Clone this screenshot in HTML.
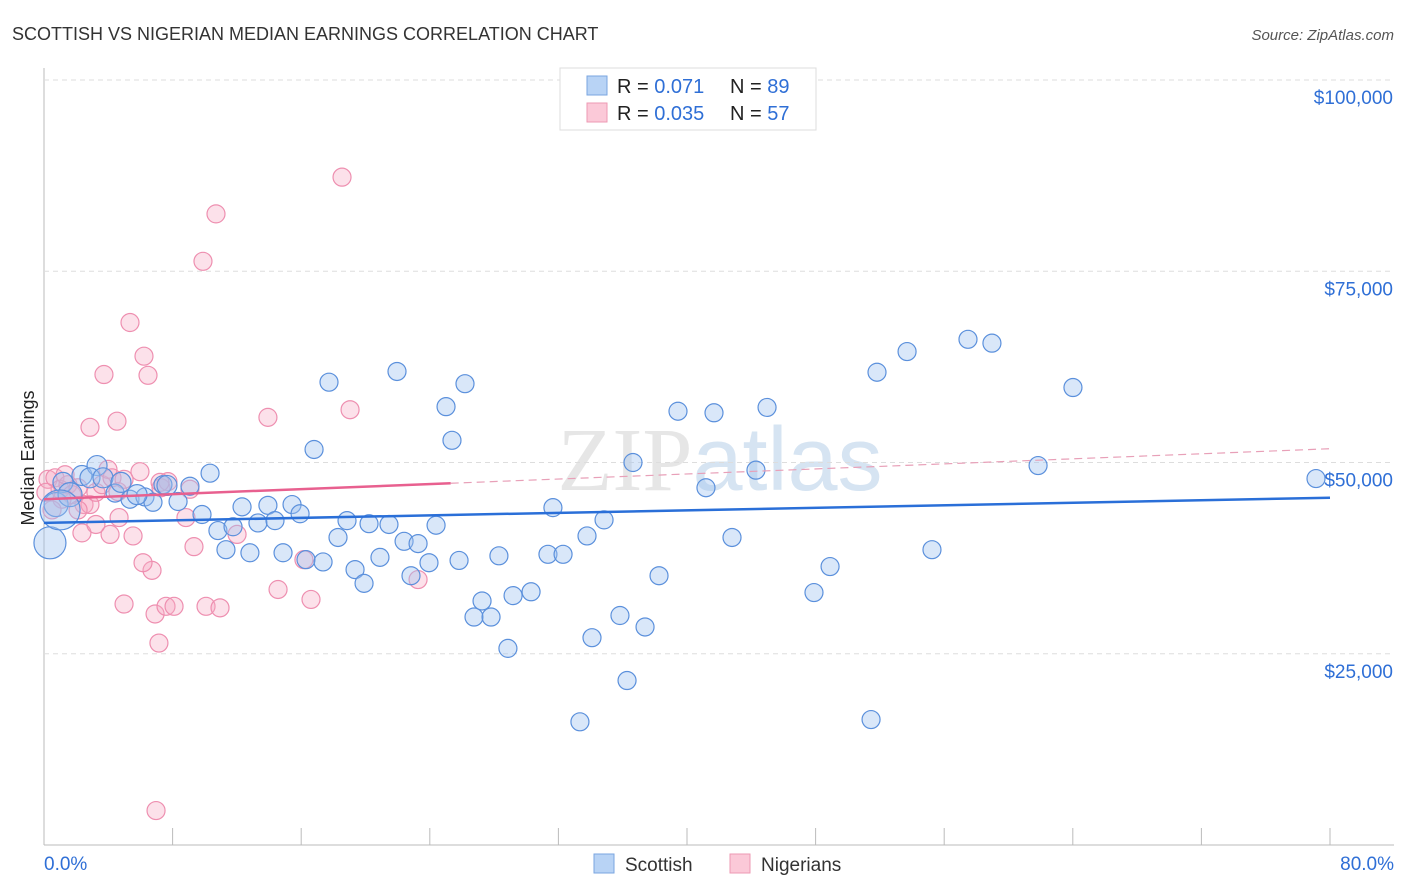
<!DOCTYPE html>
<html><head><meta charset="utf-8"><style>
body{margin:0;background:#fff;font-family:"Liberation Sans",sans-serif}
svg{display:block}
</style></head><body>
<svg id="chart" width="1406" height="892">
<text x="12" y="40" font-size="18" fill="#333">SCOTTISH VS NIGERIAN MEDIAN EARNINGS CORRELATION CHART</text>
<text x="1394" y="40" font-size="15" fill="#555" font-style="italic" text-anchor="end">Source: ZipAtlas.com</text>
<text x="34" y="458" font-size="18" fill="#222" text-anchor="middle" transform="rotate(-90 34 458)">Median Earnings</text>
<text x="720" y="490" font-size="90" fill="#e6e6e6" text-anchor="middle" font-family="Liberation Serif,serif">ZIP<tspan fill="#d6e4f2" font-family="Liberation Sans,sans-serif">atlas</tspan></text>
<g id="grid"></g><g id="pts"></g><g id="lines"></g>
<g>
<rect x="560" y="68" width="256" height="62" fill="#fff" stroke="#ddd"/>
<rect x="587" y="76" width="20" height="19" fill="#b8d3f5" stroke="#7aa6e0"/>
<rect x="587" y="103" width="20" height="19" fill="#fbc9d8" stroke="#ee99b3"/>
<text x="617" y="93" font-size="20" fill="#222">R = <tspan fill="#2f6fd6">0.071</tspan></text>
<text x="730" y="93" font-size="20" fill="#222">N = <tspan fill="#2f6fd6">89</tspan></text>
<text x="617" y="120" font-size="20" fill="#222">R = <tspan fill="#2f6fd6">0.035</tspan></text>
<text x="730" y="120" font-size="20" fill="#222">N = <tspan fill="#2f6fd6">57</tspan></text>
</g>
<g>
<rect x="594" y="854" width="20" height="19" fill="#b8d3f5" stroke="#7aa6e0"/>
<text x="625" y="871" font-size="19" fill="#333">Scottish</text>
<rect x="730" y="854" width="20" height="19" fill="#fbc9d8" stroke="#ee99b3"/>
<text x="761" y="871" font-size="19" fill="#333">Nigerians</text>
</g>
<text x="44" y="870" font-size="19" fill="#2f6fd6">0.0%</text>
<text x="1394" y="870" font-size="19" fill="#2f6fd6" text-anchor="end">80.0%</text>
</svg>
<script>
const yTicks=[25000,50000,75000,100000];
const yTickLabels=["$25,000","$50,000","$75,000","$100,000"];
const xTicks=[0,8,16,24,32,40,48,56,64,72,80];
const blueX=[2.36,3.30,2.86,1.18,4.42,5.35,6.28,6.78,7.40,8.34,9.08,10.33,9.83,10.82,11.76,11.32,12.32,12.81,13.31,13.93,14.37,14.87,15.43,15.93,16.30,16.80,17.36,17.73,18.29,18.85,19.35,19.91,20.22,20.90,21.46,21.96,22.40,22.83,23.27,23.95,24.39,25.01,25.38,25.82,26.19,26.75,27.25,27.81,28.30,28.86,29.18,30.30,31.35,31.66,32.29,33.78,34.09,34.84,35.83,36.27,36.64,37.39,38.26,39.44,41.18,41.68,42.80,44.29,44.98,47.90,48.90,51.45,51.82,53.69,55.24,57.48,58.97,61.84,64.01,79.13,33.34,0.37,0.75,1.62,3.67,4.79,5.79,7.65,1.0];
const blueY=[48.3,49.6,48.0,47.4,46.0,45.2,45.5,44.8,47.1,44.9,46.9,48.6,43.2,41.1,41.6,38.6,44.2,38.2,42.1,44.4,42.4,38.2,44.5,43.3,37.3,51.7,37.0,60.5,40.2,42.4,36.0,34.2,42.0,37.6,41.9,61.9,39.7,35.2,39.4,36.9,41.8,57.3,52.9,37.2,60.3,29.8,31.9,29.8,37.8,25.7,32.6,33.1,38.0,44.1,38.0,40.4,27.1,42.5,30.0,21.5,50.0,28.5,35.2,56.7,46.7,56.5,40.2,49.0,57.2,33.0,36.4,16.4,61.8,64.5,38.6,66.1,65.6,49.6,59.8,47.9,16.1,39.5,44.5,45.8,48.0,47.4,45.8,47.0,43.8];
const blueR=[10,10,10,10,9,9,9,9,9,9,9,9,9,9,9,9,9,9,9,9,9,9,9,9,9,9,9,9,9,9,9,9,9,9,9,9,9,9,9,9,9,9,9,9,9,9,9,9,9,9,9,9,9,9,9,9,9,9,9,9,9,9,9,9,9,9,9,9,9,9,9,9,9,9,9,9,9,9,9,9,9,16,12,12,10,10,10,10,20];
const pinkX=[0.25,0.68,1.00,1.49,1.74,2.12,2.49,2.86,3.23,3.61,3.98,4.23,4.60,4.98,5.97,2.86,4.54,3.73,5.35,6.22,6.47,7.28,7.71,8.83,9.33,10.08,10.95,12.01,10.70,9.89,13.93,18.54,19.04,14.56,16.61,16.17,23.27,2.36,4.11,5.54,6.72,6.16,4.98,6.91,7.59,8.09,7.15,6.97,4.67,3.23,2.12,1.12,0.50,0.12,1.31,7.22,9.08];
const pinkY=[47.8,48.0,46.5,47.1,45.8,46.7,44.5,44.5,46.1,47.1,49.1,48.0,46.2,47.8,48.8,54.6,55.4,61.5,68.3,63.9,61.4,46.7,47.5,42.8,39.0,31.2,31.0,40.6,82.5,76.3,55.9,87.3,56.9,33.4,32.1,37.3,34.7,40.8,40.6,40.4,35.9,36.9,31.5,30.2,31.2,31.2,26.4,4.5,42.8,41.9,43.8,45.2,43.8,46.1,48.4,47.4,46.5];
const blueTrend=[42100,45400];
const pinkTrend=[45200,51800];
const pinkSolidEnd=25.3;
const X0=44,X1=1330,YB=845,YT=80;
const sx=p=>X0+(p/80)*(X1-X0);
const sy=v=>YB-(v/100000)*(YB-YT);
const NS="http://www.w3.org/2000/svg";
function mk(t,a,parent){const e=document.createElementNS(NS,t);for(const k in a)e.setAttribute(k,a[k]);parent.appendChild(e);return e;}
const grid=document.getElementById('grid');
let ax=mk('line',{x1:X0,y1:68,x2:X0,y2:YB,stroke:'#bbb'},grid);


let bx=mk('line',{x1:X0,y1:YB,x2:1394,y2:YB,stroke:'#bbb'},grid);


yTicks.forEach((v,i)=>{
 const g=mk('line',{x1:X0,y1:sy(v),x2:1394,y2:sy(v),stroke:'#ddd','stroke-dasharray':'5,4'},grid);
 
 
 const t=mk('text',{x:1393,y:sy(v)+24,'font-size':19,fill:'#2f6fd6','text-anchor':'end'},grid);
 t.textContent=yTickLabels[i];
 
 
});
xTicks.forEach(p=>{
 const t=mk('line',{x1:sx(p),y1:828,x2:sx(p),y2:YB,stroke:'#bbb'},grid);
 
 
});
const pts=document.getElementById('pts');
pinkX.forEach((x,i)=>{
 const c=mk('circle',{cx:sx(x),cy:sy(pinkY[i]*1000),r:9,fill:'rgba(247,170,195,0.35)',stroke:'#ee8fb0','stroke-width':1.2},pts);
 
 
});
blueX.forEach((x,i)=>{
 const c=mk('circle',{cx:sx(x),cy:sy(blueY[i]*1000),r:blueR[i],fill:'rgba(160,195,240,0.4)',stroke:'#5b90dc','stroke-width':1.2},pts);
 
 
});
const lines=document.getElementById('lines');
const pv=p=>pinkTrend[0]+(pinkTrend[1]-pinkTrend[0])*p/80;
let l1=mk('line',{x1:sx(0),y1:sy(blueTrend[0]),x2:sx(80),y2:sy(blueTrend[1]),stroke:'#2a6fd8','stroke-width':2.5},lines);


let l2=mk('line',{x1:sx(0),y1:sy(pv(0)),x2:sx(pinkSolidEnd),y2:sy(pv(pinkSolidEnd)),stroke:'#e8608f','stroke-width':2.5},lines);


let l3=mk('line',{x1:sx(pinkSolidEnd),y1:sy(pv(pinkSolidEnd)),x2:sx(80),y2:sy(pv(80)),stroke:'#e8a0b8','stroke-width':1.2,'stroke-dasharray':'8,5'},lines);


</script>
</body></html>
